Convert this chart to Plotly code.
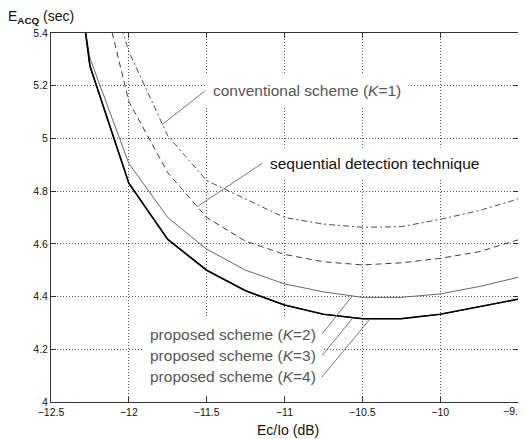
import plotly.graph_objects as go

# ---- data ----
ec_io = [-12.5, -12.25, -12.0, -11.75, -11.5, -11.25, -11.0, -10.75, -10.5, -10.25, -10.0, -9.75, -9.5]
conventional_k1 = [6.5, 5.80, 5.33, 5.01, 4.840, 4.770, 4.700, 4.675, 4.663, 4.665, 4.693, 4.726, 4.770]
sequential = [6.4, 5.75, 5.14, 4.87, 4.700, 4.610, 4.560, 4.532, 4.520, 4.528, 4.545, 4.570, 4.615]
proposed_k2 = [6.2, 5.305, 4.905, 4.700, 4.580, 4.500, 4.448, 4.418, 4.397, 4.397, 4.410, 4.438, 4.473]
proposed_k3 = [6.4, 5.275, 4.830, 4.617, 4.500, 4.422, 4.368, 4.333, 4.316, 4.316, 4.333, 4.362, 4.390]
proposed_k4 = [6.4, 5.275, 4.830, 4.617, 4.500, 4.422, 4.368, 4.333, 4.316, 4.316, 4.333, 4.362, 4.390]

x_tick_vals = [-12.5, -12, -11.5, -11, -10.5, -10, -9.5]
x_tick_text = ["\u221212.5", "\u221212", "\u221211.5", "\u221211", "\u221210.5", "\u221210", "\u22129.5"]
y_tick_vals = [4.0, 4.2, 4.4, 4.6, 4.8, 5.0, 5.2, 5.4]
y_tick_text = ["4", "4.2", "4.4", "4.6", "4.8", "5", "5.2", "5.4"]

FONT = "Liberation Sans, Arial, Helvetica, sans-serif"
X_RANGE = [x_tick_vals[0], x_tick_vals[-1]]
Y_RANGE = [y_tick_vals[0], y_tick_vals[-1]]

fig = go.Figure()
fig.add_trace(go.Scatter(x=ec_io, y=conventional_k1, mode="lines",
                         line=dict(color="#4d4d4d", width=1, dash="6px,3px,2px,3px")))
fig.add_trace(go.Scatter(x=ec_io, y=sequential, mode="lines",
                         line=dict(color="#3d3d3d", width=1, dash="6px,4px")))
fig.add_trace(go.Scatter(x=ec_io, y=proposed_k2, mode="lines",
                         line=dict(color="#666666", width=1)))
fig.add_trace(go.Scatter(x=ec_io, y=proposed_k3, mode="lines",
                         line=dict(color="#222222", width=1.2)))
fig.add_trace(go.Scatter(x=ec_io, y=proposed_k4, mode="lines",
                         line=dict(color="#000000", width=1.6)))

def label(text, head, tail, xanchor, color="#555555", bg="white", pad=7):
    return dict(text=text, x=head[0], y=head[1], ax=tail[0], ay=tail[1],
                xref="x", yref="y", axref="x", ayref="y",
                showarrow=True, arrowhead=0, arrowwidth=1, arrowcolor="#777777",
                xanchor=xanchor, yanchor="middle", bgcolor=bg, borderpad=pad,
                font=dict(family=FONT, size=15.5, color=color))

tickfont = dict(family=FONT, size=10.5, color="#111111")
clear = "rgba(0,0,0,0)"
annotations = [
    label("conventional scheme (<i>K</i>=1)", (-11.789, 5.051), (-11.511, 5.180), "left"),
    label("sequential detection technique", (-11.564, 4.740), (-11.145, 4.905), "left", "#111111"),
    label("proposed scheme (<i>K</i>=2)", (-10.565, 4.402), (-10.759, 4.258), "right", bg=clear, pad=5),
    label("proposed scheme (<i>K</i>=3)", (-10.560, 4.320), (-10.759, 4.176), "right", bg=clear, pad=5),
    label("proposed scheme (<i>K</i>=4)", (-10.449, 4.316), (-10.759, 4.095), "right", bg=clear, pad=5),
    dict(text="E<sub><b>ACQ</b></sub> (sec)", xref="paper", yref="paper",
         x=-0.0964, y=1.0434, xanchor="left", yanchor="middle", showarrow=False,
         font=dict(family=FONT, size=14, color="#111111")),
    dict(text="Ec/Io (dB)", xref="paper", yref="paper",
         x=0.508, y=-0.076, xanchor="center", yanchor="middle", showarrow=False,
         font=dict(family=FONT, size=14, color="#111111")),
    # last x tick label: it sits at the window edge, so it is placed as text nudged left
    dict(text=x_tick_text[-1], xref="x", yref="paper", x=x_tick_vals[-1], y=0,
         xanchor="center", yanchor="top", xshift=-5, yshift=-2, showarrow=False,
         borderpad=0, font=tickfont),
]

# white backing behind the three "proposed scheme" labels (hides grid only)
shapes = [dict(type="rect", xref="x", yref="y", x0=-11.909, x1=-10.759, y0=4.027, y1=4.3225,
               fillcolor="white", line=dict(width=0), layer="between")]

axis_common = dict(showline=True, linecolor="#333333", linewidth=1, mirror="ticks",
                   ticks="inside", ticklen=5, tickcolor="#333333", tickwidth=1,
                   showgrid=True, gridcolor="#555555", gridwidth=1, griddash="1px,2px",
                   zeroline=False, automargin=False, tickfont=tickfont)

# the page body adds an 8px offset, so the figure is sized to end at the window edge
fig.update_layout(
    width=518, height=431,
    margin=dict(l=43, r=8, t=25, b=37, autoexpand=False),
    paper_bgcolor="white", plot_bgcolor="white",
    showlegend=False,
    xaxis=dict(range=X_RANGE, tickvals=x_tick_vals,
               ticktext=x_tick_text[:-1] + [""], **axis_common),
    yaxis=dict(range=Y_RANGE, tickvals=y_tick_vals, ticktext=y_tick_text, **axis_common),
    annotations=annotations,
    shapes=shapes,
)

fig.write_html("out.html", post_script="document.documentElement.style.overflow='hidden';")
